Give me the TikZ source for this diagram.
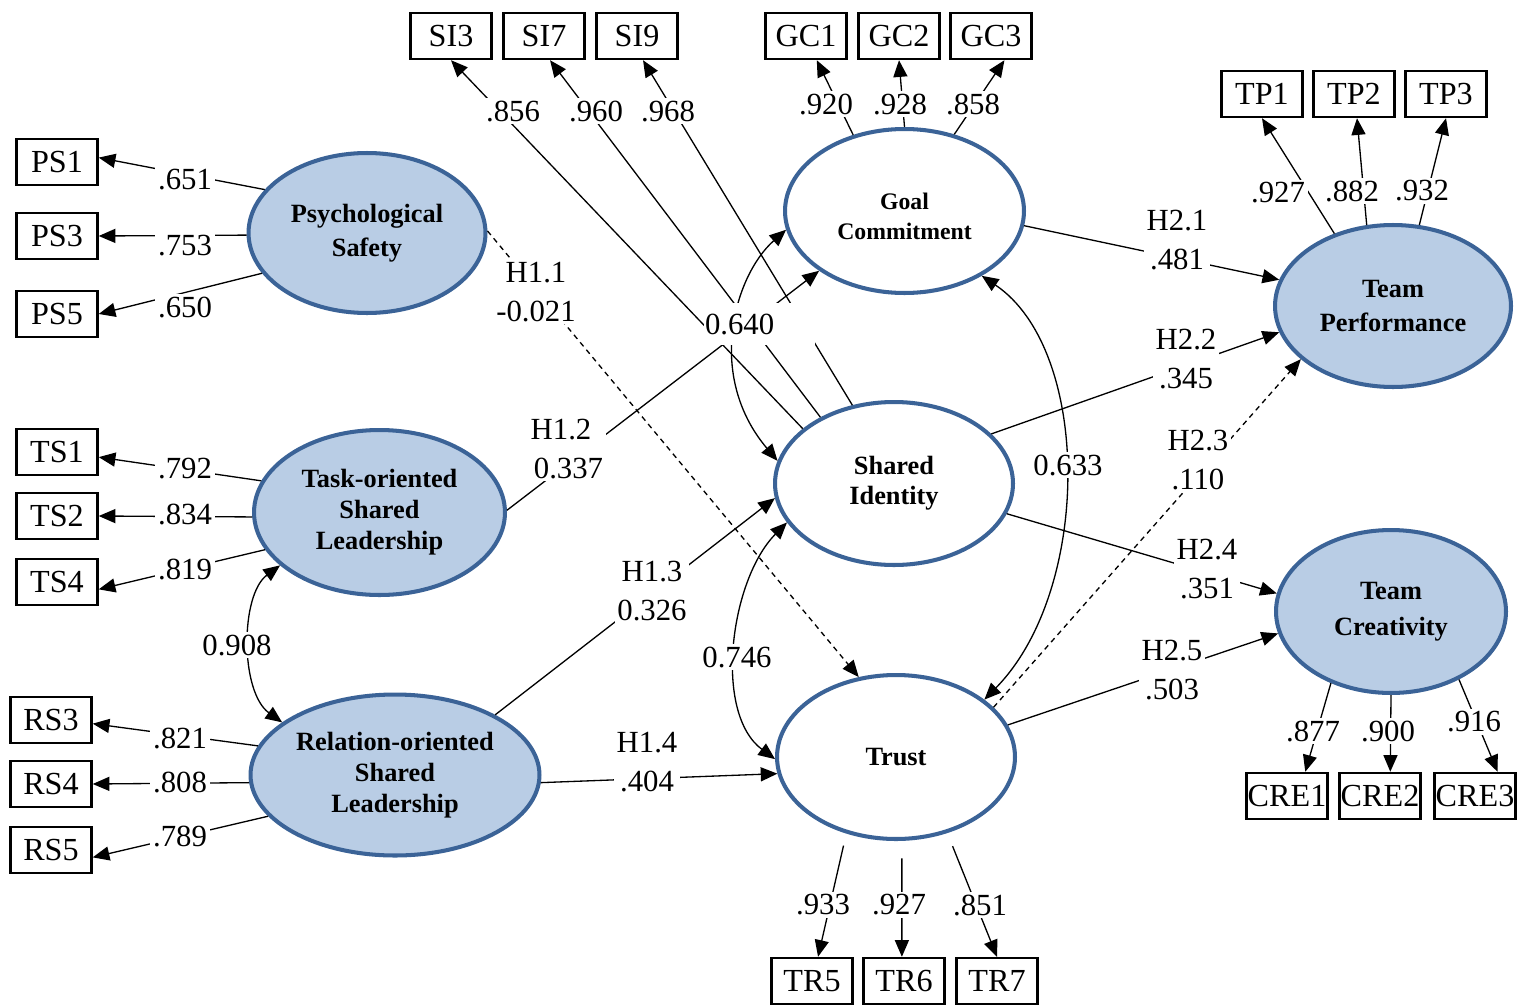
\documentclass[tikz,border=0pt]{standalone}
\usepackage{fontspec}
\setmainfont{Liberation Serif}
\usetikzlibrary{arrows.meta,shapes.geometric}
\definecolor{latfill}{HTML}{B9CDE5}
\definecolor{latline}{HTML}{3B6397}
\begin{document}
\begin{tikzpicture}[x=0.02cm,y=-0.02cm,
  obs/.style={draw, line width=1.4pt, minimum width=1.62cm, minimum height=0.92cm, inner sep=0pt, font=\fontsize{18.3}{21}\selectfont},
  lat/.style={ellipse, draw=latline, line width=2.3pt, inner sep=0pt, align=center, font=\fontsize{15}{18}\selectfont\bfseries},
  latf/.style={lat, fill=latfill},
  latw/.style={lat, fill=white},
  con/.style={line width=0.75pt, -{Triangle[length=9.5pt,width=8pt]}},
  cov/.style={line width=0.75pt, {Triangle[length=9.5pt,width=8pt]}-{Triangle[length=9.5pt,width=8pt]}},
  dsh/.style={dash pattern=on 3pt off 2.5pt},
  lbl/.style={fill=white, inner sep=1.5pt, align=center, font=\fontsize{17.5}{22}\selectfont},
]
\useasboundingbox (0,0) rectangle (1517,1007);

% observed variables
\node[obs] (SI3) at (451,36) {SI3};
\node[obs] (SI7) at (544,36) {SI7};
\node[obs] (SI9) at (637,36) {SI9};
\node[obs] (GC1) at (806,36) {GC1};
\node[obs] (GC2) at (899,36) {GC2};
\node[obs] (GC3) at (991,36) {GC3};
\node[obs] (TP1) at (1262,94) {TP1};
\node[obs] (TP2) at (1354,94) {TP2};
\node[obs] (TP3) at (1446,94) {TP3};
\node[obs] (PS1) at (57,162) {PS1};
\node[obs] (PS3) at (57,236) {PS3};
\node[obs] (PS5) at (57,314) {PS5};
\node[obs] (TS1) at (57,452) {TS1};
\node[obs] (TS2) at (57,516) {TS2};
\node[obs] (TS4) at (57,582) {TS4};
\node[obs] (RS3) at (51,720) {RS3};
\node[obs] (RS4) at (51,784) {RS4};
\node[obs] (RS5) at (51,850) {RS5};
\node[obs] (TR5) at (812,981) {TR5};
\node[obs] (TR6) at (904,981) {TR6};
\node[obs] (TR7) at (997,981) {TR7};
\node[obs] (CRE1) at (1287,796) {CRE1};
\node[obs] (CRE2) at (1380,796) {CRE2};
\node[obs] (CRE3) at (1475,796) {CRE3};

% latent variables
\node[latf, minimum width=4.74cm, minimum height=3.2cm, font=\fontsize{15}{19.3}\selectfont\bfseries] (ps) at (367,233) {Psychological\\Safety};
\node[latw, minimum width=4.78cm, minimum height=3.28cm, font=\fontsize{13.5}{17}\selectfont\bfseries] (gc) at (904.5,211) {\raisebox{-0.27cm}[0pt][0pt]{\begin{tabular}{@{}c@{}}Goal\\Commitment\end{tabular}}};
\node[latf, minimum width=4.72cm, minimum height=3.24cm, font=\fontsize{15}{19.3}\selectfont\bfseries] (tp) at (1393,306) {Team\\Performance};
\node[latf, minimum width=5.02cm, minimum height=3.3cm, font=\fontsize{15}{17.6}\selectfont\bfseries] (ts) at (379.5,512.5) {Task-oriented\\Shared\\Leadership};
\node[latw, minimum width=4.76cm, minimum height=3.26cm, font=\fontsize{15}{17}\selectfont\bfseries] (si) at (894,483.5) {Shared\\Identity};
\node[latf, minimum width=4.6cm, minimum height=3.26cm, font=\fontsize{15}{20.4}\selectfont\bfseries] (tc) at (1391,611.5) {Team\\Creativity};
\node[latf, minimum width=5.78cm, minimum height=3.22cm, font=\fontsize{15}{17.6}\selectfont\bfseries] (rs) at (395,775) {Relation-oriented\\Shared\\Leadership};
\node[latw, minimum width=4.76cm, minimum height=3.28cm] (tr) at (896,757) {Trust};

% loadings
\draw[con] (ps.157) -- (PS1.6) node[lbl] at (185,180) {.651};
\draw[con] (ps.181) -- (PS3.east) node[lbl] at (185,246) {.753};
\draw[con] (ps.201) -- (PS5.east) node[lbl] at (185,307) {.650};
\draw[con] (ts.165) -- (TS1.-7) node[lbl] at (185,469) {.792};
\draw[con] (ts.182) -- (TS2.east) node[lbl] at (185,514) {.834};
\draw[con] (ts.198) -- (TS4.-10) node[lbl] at (185,569) {.819};
\draw[con] (rs.168) -- (RS3.-5) node[lbl] at (180,738) {.821};
\draw[con] (rs.183) -- (RS4.east) node[lbl] at (180,782) {.808};
\draw[con] (rs.198) -- (RS5.-10) node[lbl] at (180,836) {.789};
\draw[con] (si.149) -- (SI3.south) node[lbl] at (513,111) {.856};
\draw[con] (si.138) -- (SI7.-76) node[lbl] at (596,111) {.960};
\draw[con] (si.118) -- (SI9.-76) node[lbl] at (668,111) {.968};
\draw[con] (gc.124) -- (GC1.-66) node[lbl] at (826,104) {.920};
\draw[con] (gc.90) -- (GC2.south) node[lbl] at (900,104) {.928};
\draw[con] (gc.57) -- (GC3.-61) node[lbl] at (973,104) {.858};
\draw[con] (tp.129) -- (TP1.south) node[lbl] at (1278,193) {.927};
\draw[con] (tp.108) -- (TP2.-83) node[lbl] at (1352,191) {.882};
\draw[con] (tp.72) -- (TP3.south) node[lbl] at (1422,191) {.932};
\draw[con] (tc.-130) -- (CRE1.53) node[lbl] at (1313,731) {.877};
\draw[con] (tc.-90) -- (CRE2.67) node[lbl] at (1388,731) {.900};
\draw[con] (tc.-45) -- (CRE3.47) node[lbl] at (1474,722) {.916};
\draw[con, shorten <=7pt] (tr.-123) -- (TR5.76) node[lbl] at (823,905) {.933};
\draw[con, shorten <=10pt] (tr.-86) -- (TR6.95) node[lbl] at (899,905) {.927};
\draw[con, shorten <=8pt] (tr.-56) -- (TR7.90) node[lbl] at (980,905) {.851};

% structural paths
\draw[con, dsh] (ps.1) -- (tr.115) node[lbl] at (536,292) {H1.1\\-0.021};
\draw[con] (ts.1) -- (gc.215) node[lbl] at (561,449) {H1.2\\\hspace*{0.3cm}0.337};
\draw[con] (rs.31) -- (si.187) node[lbl] at (652,591) {H1.3\\0.326};
\draw[con] (rs.-3) -- (tr.188) node[lbl] at (647,762) {H1.4\\.404};
\draw[con] (gc.-7) -- (tp.167) node[lbl] at (1177,240) {H2.1\\.481};
\draw[con] (si.27) -- (tp.193) node[lbl] at (1186,359) {H2.2\\.345};
\draw[con, dsh] (tr.27) -- (tp.210) node[lbl] at (1198,460) {H2.3\\.110};
\draw[con] (si.-15) -- (tc.171) node[lbl] at (1207,569) {H2.4\\.351};
\draw[con] (tr.16) -- (tc.191) node[lbl] at (1172,670) {H2.5\\.503};

% covariances
\draw[cov] (gc.189) .. controls (735,275) and (705,375) .. (si.169)
  node[lbl, inner sep=0pt, minimum width=2.22cm, minimum height=0.84cm, text width=2.18cm, align=left] at (759.5,324) {0.640};
\draw[cov] (ts.208) .. controls (240,595) and (240,692) .. (rs.155)
  node[lbl] at (237,645) {0.908};
\draw[cov] (si.200) .. controls (730,580) and (713,713) .. (tr.181)
  node[lbl] at (737,657) {0.746};
\draw[cov] (gc.-40) .. controls (1092,350) and (1092,590) .. (tr.33)
  node[lbl] at (1068,465) {0.633};
\end{tikzpicture}
\end{document}
